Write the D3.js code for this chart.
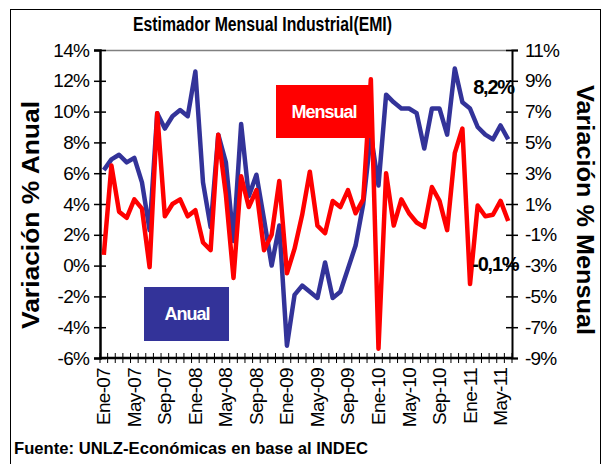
<!DOCTYPE html>
<html>
<head>
<meta charset="utf-8">
<script src="https://cdn.jsdelivr.net/npm/d3@7"></script>
<style>
  body { margin: 0; background: #fff; }
  text { font-family: "Liberation Sans", Arial, sans-serif; }
</style>
</head>
<body>
<div id="chart"></div>
<script>
// meses (Ene-07 .. Jun-11)
const categories = [
  "Ene-07","Feb-07","Mar-07","Abr-07","May-07","Jun-07","Jul-07","Ago-07","Sep-07","Oct-07","Nov-07","Dic-07",
  "Ene-08","Feb-08","Mar-08","Abr-08","May-08","Jun-08","Jul-08","Ago-08","Sep-08","Oct-08","Nov-08","Dic-08",
  "Ene-09","Feb-09","Mar-09","Abr-09","May-09","Jun-09","Jul-09","Ago-09","Sep-09","Oct-09","Nov-09","Dic-09",
  "Ene-10","Feb-10","Mar-10","Abr-10","May-10","Jun-10","Jul-10","Ago-10","Sep-10","Oct-10","Nov-10","Dic-10",
  "Ene-11","Feb-11","Mar-11","Abr-11","May-11","Jun-11"
];
// variacion % anual (eje izq)
const anual = [
  6.2, 6.9, 7.2, 6.7, 7.0, 5.4, 2.3, 9.9, 8.9, 9.7, 10.1, 9.7,
  12.6, 5.4, 2.5, 8.5, 6.7, 1.6, 9.2, 4.5, 5.9, 3.0, 0.0, 2.6,
  -5.2, -1.9, -1.3, -1.7, -2.1, 0.2, -2.1, -1.7, -0.2, 1.3, 4.0, 8.5,
  5.2, 11.1, 10.6, 10.2, 10.2, 9.9, 7.6, 10.2, 10.2, 8.5, 12.8, 10.6,
  10.2, 9.0, 8.5, 8.2, 9.1, 8.2
];
// variacion % mensual (eje der)
const mensual = [
  -2.3, 3.5, 0.5, 0.1, 1.3, 0.7, -3.1, 6.9, 0.2, 1.0, 1.3, 0.2,
  0.6, -1.5, -2.0, 5.5, 1.6, -3.8, 2.8, 0.8, 1.9, -2.0, -1.0, 2.5,
  -3.5, -1.9, 0.3, 3.1, -0.4, -0.9, 1.2, 0.8, 1.9, 0.4, 1.3, 9.1,
  -8.4, 3.0, -0.4, 1.3, 0.4, -0.2, -0.5, 2.1, 1.2, -0.7, 4.3, 5.9,
  -4.2, 0.9, 0.2, 0.3, 1.2, -0.1
];
const leftTicks = [-6, -4, -2, 0, 2, 4, 6, 8, 10, 12, 14];
const rightTicks = [-9, -7, -5, -3, -1, 1, 3, 5, 7, 9, 11];
const xLabels = categories.filter((d, i) => i % 4 === 0);

const W = 608, H = 464;
const m = {left: 100, right: 512, top: 50, bottom: 358};

const svg = d3.select("#chart").append("svg")
  .attr("width", W).attr("height", H);

// marco exterior
svg.append("rect")
  .attr("x", 10.5).attr("y", 9.5)
  .attr("width", 590).attr("height", 470)
  .attr("fill", "none").attr("stroke", "#000").attr("stroke-width", 1);

const x = d3.scaleBand().domain(categories).range([m.left, m.right]);
const yL = d3.scaleLinear().domain([-6, 14]).range([m.bottom, m.top]);
const yR = d3.scaleLinear().domain([-9, 11]).range([m.bottom, m.top]);
const cx = d => x(d) + x.bandwidth() / 2;

// borde superior del area
svg.append("line")
  .attr("x1", m.left).attr("x2", m.right)
  .attr("y1", m.top + 0.5).attr("y2", m.top + 0.5)
  .attr("stroke", "#808080").attr("stroke-width", 1.5);

// eje izquierdo
const gL = svg.append("g")
  .attr("transform", "translate(" + m.left + ",0)")
  .call(d3.axisLeft(yL).tickValues(leftTicks).tickFormat(d => d + "%").tickSizeOuter(0).tickSize(6).tickPadding(5));
gL.selectAll(".tick line").attr("x1", 6).attr("stroke-width", 1.5);
gL.select(".domain").attr("stroke-width", 2.5);
gL.selectAll("text").style("font-size", "19px").attr("fill", "#000").attr("letter-spacing", "-0.8");

// eje derecho
const gR = svg.append("g")
  .attr("transform", "translate(" + m.right + ",0)")
  .call(d3.axisRight(yR).tickValues(rightTicks).tickFormat(d => d + "%").tickSizeOuter(0).tickSize(6).tickPadding(7));
gR.selectAll(".tick line").attr("x1", -6).attr("stroke-width", 1.5);
gR.select(".domain").attr("stroke-width", 2);
gR.selectAll("text").style("font-size", "19px").attr("fill", "#000").attr("letter-spacing", "-0.8");

// eje x: marcas en cada mes
const gX = svg.append("g");
const bounds = categories.map(d => x(d)).concat([m.right]);
gX.selectAll("line.mt")
  .data(bounds)
  .enter().append("line")
  .attr("class", "mt")
  .attr("x1", d => d).attr("x2", d => d)
  .attr("y1", m.bottom - 5).attr("y2", m.bottom + 5)
  .attr("stroke", "#000").attr("stroke-width", 1);
gX.append("line")
  .attr("x1", m.left).attr("x2", m.right)
  .attr("y1", m.bottom).attr("y2", m.bottom)
  .attr("stroke", "#000").attr("stroke-width", 2.5);

gX.selectAll("text.xl")
  .data(xLabels)
  .enter().append("text")
  .attr("class", "xl")
  .attr("transform", d => "translate(" + (cx(d) + 6.5) + "," + (m.bottom + 10) + ") rotate(-90)")
  .attr("text-anchor", "end")
  .style("font-size", "19px")
  .attr("letter-spacing", "-0.7")
  .text(d => d);

// series
const line = (scale) => d3.line()
  .x((d, i) => cx(categories[i]))
  .y(d => scale(d));

svg.append("path")
  .datum(anual)
  .attr("d", line(yL))
  .attr("fill", "none")
  .attr("stroke", "#333399")
  .attr("stroke-width", 4.5)
  .attr("stroke-linejoin", "round");

svg.append("path")
  .datum(mensual)
  .attr("d", line(yR))
  .attr("fill", "none")
  .attr("stroke", "#ff0000")
  .attr("stroke-width", 4.5)
  .attr("stroke-linejoin", "round");

// etiquetas de datos finales
const last = categories.length - 1;
svg.append("text")
  .attr("x", cx(categories[last]) - 35)
  .attr("y", yL(anual[last]) - 45)
  .style("font-size", "20px").style("font-weight", "bold")
  .attr("letter-spacing", "-1.2")
  .text("8,2%");
svg.append("text")
  .attr("x", cx(categories[last]) - 36)
  .attr("y", yR(mensual[last]) + 50)
  .style("font-size", "20px").style("font-weight", "bold")
  .attr("letter-spacing", "-1.2")
  .text("-0,1%");

// recuadros de leyenda
svg.append("rect").attr("x", 276).attr("y", 85).attr("width", 96).attr("height", 53).attr("fill", "#ff0000");
svg.append("text").attr("x", 324).attr("y", 118).attr("text-anchor", "middle")
  .style("font-size", "18px").style("font-weight", "bold").attr("fill", "#fff")
  .attr("letter-spacing", "-1").text("Mensual");
svg.append("rect").attr("x", 144).attr("y", 287).attr("width", 85).attr("height", 54).attr("fill", "#333399");
svg.append("text").attr("x", 187).attr("y", 320).attr("text-anchor", "middle")
  .style("font-size", "18px").style("font-weight", "bold").attr("fill", "#fff")
  .attr("letter-spacing", "-1").text("Anual");

// titulos
svg.append("text")
  .attr("x", 133).attr("y", 31)
  .attr("textLength", 259).attr("lengthAdjust", "spacingAndGlyphs")
  .style("font-size", "20px").style("font-weight", "bold")
  .text("Estimador Mensual Industrial(EMI)");

svg.append("text")
  .attr("transform", "translate(39,215) rotate(-90)")
  .attr("text-anchor", "middle")
  .attr("textLength", 228).attr("lengthAdjust", "spacingAndGlyphs")
  .style("font-size", "23px").style("font-weight", "bold")
  .text("Variación % Anual");

svg.append("text")
  .attr("transform", "translate(577,210) rotate(90)")
  .attr("text-anchor", "middle")
  .attr("textLength", 250).attr("lengthAdjust", "spacingAndGlyphs")
  .style("font-size", "23px").style("font-weight", "bold")
  .text("Variación % Mensual");

svg.append("text")
  .attr("x", 14).attr("y", 454)
  .attr("textLength", 354).attr("lengthAdjust", "spacingAndGlyphs")
  .style("font-size", "17px").style("font-weight", "bold")
  .text("Fuente: UNLZ-Económicas en base al INDEC");
</script>
</body>
</html>
